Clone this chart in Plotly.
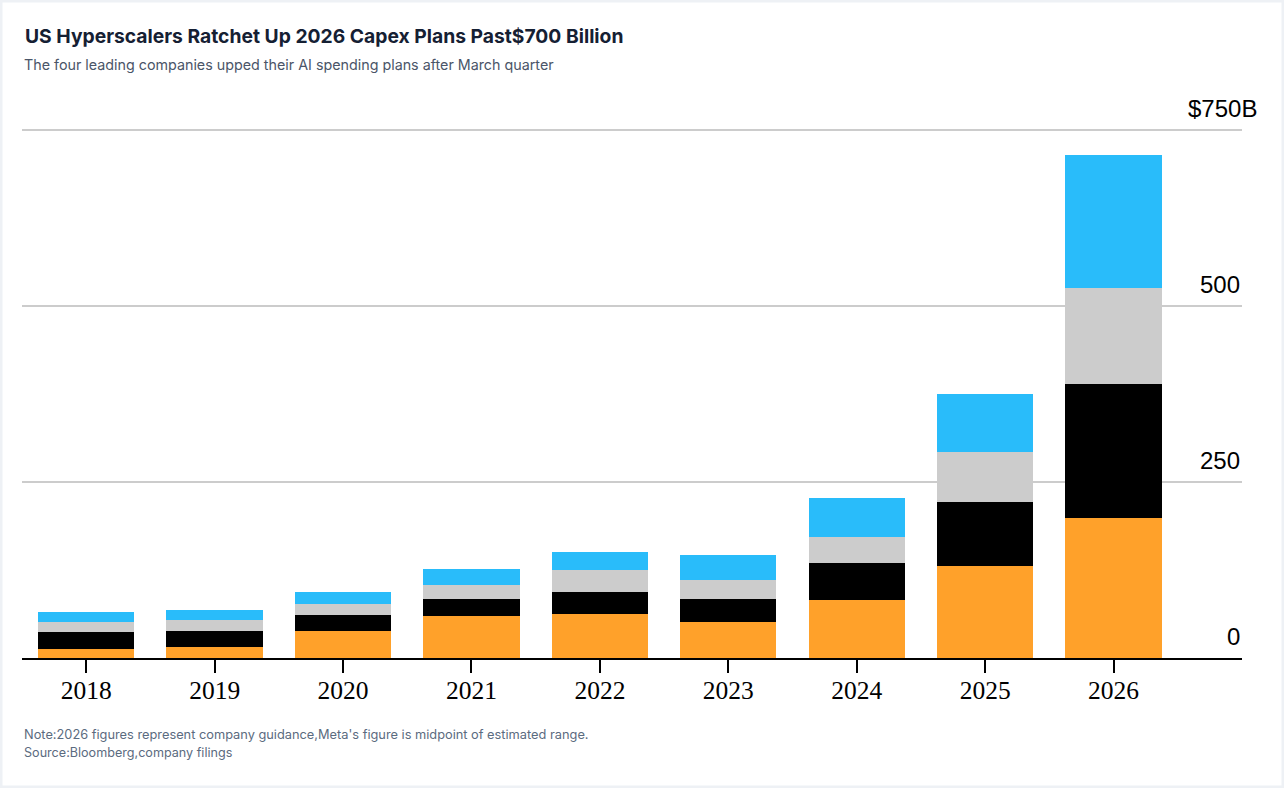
import plotly.graph_objects as go

years = ["2018", "2019", "2020", "2021", "2022", "2023", "2024", "2025", "2026"]
orange_vals = [12.4, 15.6, 38.8, 59.7, 62.5, 51.6, 82.0, 130.7, 199.3]
black_vals = [24.5, 23.2, 22.7, 24.5, 31.3, 31.8, 52.5, 91.3, 189.9]
gray_vals = [14.2, 15.2, 15.2, 19.5, 31.7, 27.8, 37.8, 70.6, 135.9]
blue_vals = [14.2, 14.2, 17.0, 22.7, 24.7, 35.1, 55.0, 82.8, 189.9]

series_names = ["Amazon", "Alphabet", "Meta", "Microsoft"]
series_colors = ["#FFA12A", "#000000", "#CCCCCC", "#29BCFA"]

y_tickvals = [0, 250, 500, 750]
y_ticktext = ["0", "250", "500", "$750B"]

title_text = "US Hyperscalers Ratchet Up 2026 Capex Plans Past$700 Billion"
subtitle_text = "The four leading companies upped their AI spending plans after March quarter"
note_text = "Note:2026 figures represent company guidance,Meta's figure is midpoint of estimated range."
source_text = "Source:Bloomberg,company filings"

W, H = 1284, 788
L, R, T, B = 22, 1242, 126, 658
pw, ph = R - L, B - T
y_max = 750 * ph / (B - 130)


def px_x(x):
    return (x - L) / pw


def px_y(y):
    return (B - y) / ph


fig = go.Figure()
for name, vals, col in zip(series_names, [orange_vals, black_vals, gray_vals, blue_vals], series_colors):
    fig.add_trace(go.Bar(x=years, y=vals, name=name, marker=dict(color=col, line=dict(width=0))))

annotations = []
for v, t in zip(y_tickvals, y_ticktext):
    annotations.append(dict(
        x=1, xref="paper", y=v, yref="y", text=t, showarrow=False,
        xanchor="right", yanchor="middle", yshift=22,
        xshift=17 if t.endswith("B") else 0,
        font=dict(family="Liberation Sans, Arial", size=24, color="#000000"),
    ))

annotations.append(dict(
    x=px_x(22), xref="paper", y=px_y(65), yref="paper", text=subtitle_text,
    showarrow=False, xanchor="left", yanchor="middle",
    font=dict(family="Inter, Noto Sans", size=14.3, color="#4A5568"),
))
annotations.append(dict(
    x=px_x(22), xref="paper", y=px_y(734), yref="paper", text=note_text,
    showarrow=False, xanchor="left", yanchor="middle",
    font=dict(family="Inter, Noto Sans", size=12.8, color="#5B6B80"),
))
annotations.append(dict(
    x=px_x(22), xref="paper", y=px_y(752), yref="paper", text=source_text,
    showarrow=False, xanchor="left", yanchor="middle",
    font=dict(family="Inter, Noto Sans", size=12.6, color="#5B6B80"),
))

fig.update_layout(
    width=W, height=H,
    barmode="stack",
    bargap=0.25,
    showlegend=False,
    plot_bgcolor="white",
    paper_bgcolor="white",
    margin=dict(l=L, r=W - R, t=T, b=H - B, pad=0),
    title=dict(
        text="<b>" + title_text + "</b>",
        x=25 / W, xanchor="left", xref="container",
        y=1 - 36 / H, yanchor="middle", yref="container",
        font=dict(family="Inter, Noto Sans", size=19.3, color="#152033"),
    ),
    xaxis=dict(
        type="category",
        range=[-0.5, 9.0],
        showline=True, linecolor="#000000", linewidth=2,
        ticks="outside", ticklen=13, tickwidth=2, tickcolor="#000000",
        tickfont=dict(family="Liberation Serif, Times New Roman", size=25.5, color="#000000"),
        ticklabelstandoff=-5,
        showgrid=False,
        fixedrange=True,
    ),
    yaxis=dict(
        range=[0, y_max],
        tickvals=y_tickvals,
        showticklabels=False,
        showgrid=True, gridcolor="#CCCCCC", gridwidth=2,
        zeroline=False,
        fixedrange=True,
    ),
    annotations=annotations,
    shapes=[dict(
        type="rect", xref="paper", yref="paper",
        x0=px_x(1), x1=px_x(W - 1), y0=px_y(H - 1), y1=px_y(1),
        line=dict(color="#EEF1F5", width=3), fillcolor="rgba(0,0,0,0)", layer="below",
    )],
)

fig.write_html("out.html")
